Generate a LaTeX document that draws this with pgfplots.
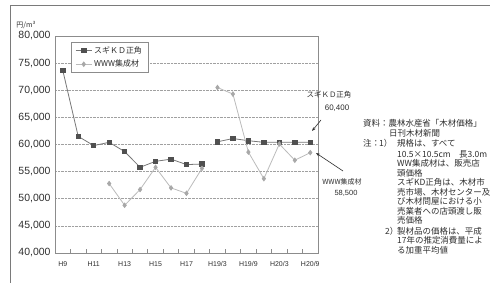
\documentclass[border=0pt]{standalone}
\usepackage{pgfplots}
\pgfplotsset{compat=1.18}
\usepackage{fontspec}
\setmainfont{Liberation Sans}
\newfontfamily\jp{Noto Sans CJK JP}
\usetikzlibrary{arrows.meta}
\definecolor{framegray}{HTML}{7A7A7A}
\definecolor{axisgray}{HTML}{8C8C8C}
\definecolor{gridgray}{HTML}{A0A0A0}
\definecolor{txt}{HTML}{2E2E2E}
\definecolor{sonelne}{HTML}{777777}
\definecolor{sonemk}{HTML}{505050}
\definecolor{stwolne}{HTML}{BBBBBB}
\definecolor{stwomk}{HTML}{A8A8A8}
\begin{document}
\begin{tikzpicture}[x=1bp,y=1bp]
\useasboundingbox (0,0) rectangle (490,282);
\draw[framegray, line width=0.9bp] (10,-2) -- (10,277) -- (492,277);
\begin{axis}[
  at={(55bp,29bp)}, anchor=south west,
  scale only axis, width=263bp, height=217bp,
  xmin=-0.5, xmax=16.5, ymin=40000, ymax=80000,
  ytick={40000,45000,...,80000},
  xtick={0,2,...,16},
  xticklabels={H9,H11,H13,H15,H17,H19/3,H19/9,H20/3,H20/9},
  minor xtick={0.5,1.5,...,15.5},
  major tick length=0pt, minor tick length=4bp,
  tick align=inside, tick pos=left,
  minor tick style={axisgray, line width=0.7bp},
  ymajorgrids, grid style={densely dotted, gridgray, line width=0.7bp},
  axis line style={axisgray, line width=0.8bp},
  scaled y ticks=false,
  /pgf/number format/.cd, fixed, 1000 sep={,}, assume math mode=true,
  /pgfplots/.cd,
  yticklabel style={font=\fontsize{10.5}{12}\selectfont, text=txt, xshift=-1bp},
  xticklabel style={font=\fontsize{7}{8}\selectfont, text=txt, yshift=-5bp},
  legend style={at={(0.061,0.972)}, anchor=north west, draw=axisgray,
    line width=0.6bp, font=\jp\fontsize{8}{9}\selectfont, text=txt,
    inner xsep=4bp, inner ysep=2bp, row sep=1.5bp},
  legend cell align=left,
  legend image code/.code={\draw[mark repeat=2,mark phase=2] plot coordinates {(0bp,0bp) (8bp,0bp) (16bp,0bp)};},
]
\addplot[sonelne, line width=0.8bp, mark=square*, mark size=2.2bp,
  mark options={fill=sonemk, draw=sonemk}] coordinates {
  (0,73700) (1,61500) (2,59800) (3,60400) (4,58700) (5,55800)
  (6,56900) (7,57300) (8,56300) (9,56400)};
\addlegendentry{スギＫＤ正角}
\addplot[stwolne, line width=0.8bp, mark=diamond*, mark size=2.2bp,
  mark options={fill=stwomk, draw=stwomk}] coordinates {
  (3,52800) (4,48800) (5,51700) (6,55800) (7,52000) (8,51000) (9,55600)};
\addlegendentry{WWW集成材}
\addplot[forget plot, sonelne, line width=0.8bp, mark=square*, mark size=2.2bp,
  mark options={fill=sonemk, draw=sonemk}] coordinates {
  (10,60500) (11,61100) (12,60700) (13,60400) (14,60400) (15,60400) (16,60400)};
\addplot[forget plot, stwolne, line width=0.8bp, mark=diamond*, mark size=2.2bp,
  mark options={fill=stwomk, draw=stwomk}] coordinates {
  (10,70500) (11,69300) (12,58600) (13,53700) (14,60100) (15,57100) (16,58500)};
\end{axis}
% unit label
\node[font=\jp\fontsize{7}{8}\selectfont, text=txt] at (26,257) {円/m³};
% annotations
\node[font=\jp\fontsize{7.5}{9}\selectfont, text=txt] at (329,187) {スギＫＤ正角};
\node[font=\fontsize{8}{9}\selectfont, text=txt] at (337,174) {60,400};
\draw[txt, line width=0.6bp, -{Stealth[length=4bp,width=3bp]}] (321,162) -- (312,151);
\node[font=\jp\fontsize{7}{9}\selectfont, text=txt] at (342,100) {WWW集成材};
\node[font=\fontsize{7.5}{9}\selectfont, text=txt] at (346,89) {58,500};
\draw[txt, line width=0.6bp, -{Stealth[length=4bp,width=3bp]}] (343,111) -- (316,129);
% notes
\begin{scope}[every node/.style={font=\jp\fontsize{8.5}{9}\selectfont, text=txt, anchor=west, inner sep=0pt}]
\node at (363,159) {資料：農林水産省「木材価格」};
\node at (389,149) {日刊木材新聞};
\node at (363,138.5) {注：};
\node at (379,138.5) {1）};
\node at (397,138.5) {規格は、すべて};
\node at (397,128) {10.5×10.5cm　長3.0m};
\node at (397,118.5) {WW集成材は、販売店};
\node at (397,109) {頭価格};
\node at (397,99.5) {スギKD正角は、木材市};
\node at (397,90) {売市場、木材センター及};
\node at (397,80.5) {び木材問屋における小};
\node at (397,71) {売業者への店頭渡し販};
\node at (397,61.5) {売価格};
\node at (385,51) {2）};
\node at (397,51) {製材品の価格は、平成};
\node at (397,41.5) {17年の推定消費量によ};
\node at (397,32) {る加重平均値};
\end{scope}
\end{tikzpicture}
\end{document}
